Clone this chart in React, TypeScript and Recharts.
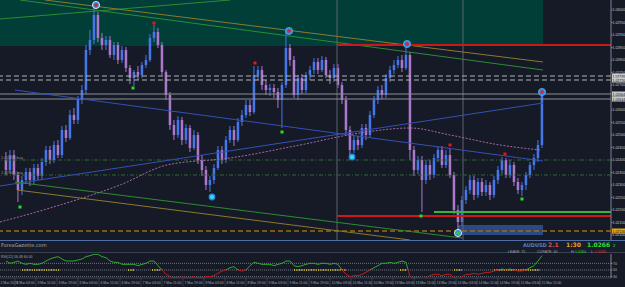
import React from 'react';
import { ComposedChart, Bar, Line, XAxis, YAxis, ReferenceLine, ReferenceArea, ReferenceDot } from 'recharts';

// candles, index 0..134
const opens = [
  1.02400, 1.02360, 1.02420, 1.02340, 1.02280, 1.02320, 1.02352, 1.02320, 1.02368, 1.02336,
  1.02392, 1.02440, 1.02400, 1.02460, 1.02420, 1.02520, 1.02488, 1.02580, 1.02560, 1.02640,
  1.02680, 1.02840, 1.02880, 1.02980, 1.02888, 1.02860, 1.02880, 1.02820, 1.02860, 1.02800,
  1.02840, 1.02768, 1.02728, 1.02752, 1.02740, 1.02780, 1.02800, 1.02888, 1.02912, 1.02860,
  1.02752, 1.02660, 1.02540, 1.02500, 1.02560, 1.02480, 1.02528, 1.02448, 1.02500, 1.02400,
  1.02360, 1.02300, 1.02320, 1.02368, 1.02440, 1.02400, 1.02480, 1.02520, 1.02480, 1.02552,
  1.02580, 1.02620, 1.02592, 1.02740, 1.02760, 1.02700, 1.02680, 1.02688, 1.02672, 1.02640,
  1.02700, 1.02848, 1.02800, 1.02660, 1.02728, 1.02680, 1.02740, 1.02760, 1.02792, 1.02760,
  1.02800, 1.02740, 1.02728, 1.02768, 1.02700, 1.02640, 1.02520, 1.02440, 1.02480, 1.02460,
  1.02528, 1.02500, 1.02580, 1.02640, 1.02680, 1.02660, 1.02728, 1.02760, 1.02780, 1.02800,
  1.02768, 1.02820, 1.02440, 1.02360, 1.02400, 1.02320, 1.02380, 1.02340, 1.02408, 1.02440,
  1.02380, 1.02420, 1.02340, 1.02200, 1.02152, 1.02240, 1.02280, 1.02320, 1.02260, 1.02312,
  1.02272, 1.02300, 1.02260, 1.02320, 1.02360, 1.02400, 1.02340, 1.02380, 1.02312, 1.02280,
  1.02300, 1.02340, 1.02380, 1.02408, 1.02460,
];
const closes = [
  1.02360, 1.02420, 1.02340, 1.02280, 1.02320, 1.02352, 1.02320, 1.02368, 1.02336, 1.02392,
  1.02440, 1.02400, 1.02460, 1.02420, 1.02520, 1.02488, 1.02580, 1.02560, 1.02640, 1.02680,
  1.02840, 1.02880, 1.02980, 1.02888, 1.02860, 1.02880, 1.02820, 1.02860, 1.02800, 1.02840,
  1.02768, 1.02728, 1.02752, 1.02740, 1.02780, 1.02800, 1.02888, 1.02912, 1.02860, 1.02752,
  1.02660, 1.02540, 1.02500, 1.02560, 1.02480, 1.02528, 1.02448, 1.02500, 1.02400, 1.02360,
  1.02300, 1.02320, 1.02368, 1.02440, 1.02400, 1.02480, 1.02520, 1.02480, 1.02552, 1.02580,
  1.02620, 1.02592, 1.02740, 1.02760, 1.02700, 1.02680, 1.02688, 1.02672, 1.02640, 1.02700,
  1.02848, 1.02800, 1.02660, 1.02728, 1.02680, 1.02740, 1.02760, 1.02792, 1.02760, 1.02800,
  1.02740, 1.02728, 1.02768, 1.02700, 1.02640, 1.02520, 1.02440, 1.02480, 1.02460, 1.02528,
  1.02500, 1.02580, 1.02640, 1.02680, 1.02660, 1.02728, 1.02760, 1.02780, 1.02800, 1.02768,
  1.02820, 1.02440, 1.02360, 1.02400, 1.02320, 1.02380, 1.02340, 1.02408, 1.02440, 1.02380,
  1.02420, 1.02340, 1.02200, 1.02152, 1.02240, 1.02280, 1.02320, 1.02260, 1.02312, 1.02272,
  1.02300, 1.02260, 1.02320, 1.02360, 1.02400, 1.02340, 1.02380, 1.02312, 1.02280, 1.02300,
  1.02340, 1.02380, 1.02408, 1.02460, 1.02668,
];
const highs = [
  1.02432, 1.02440, 1.02440, 1.02352, 1.02336, 1.02368, 1.02368, 1.02384, 1.02384, 1.02408,
  1.02456, 1.02456, 1.02476, 1.02480, 1.02536, 1.02540, 1.02600, 1.02608, 1.02656, 1.02700,
  1.02860, 1.02920, 1.03020, 1.02992, 1.02908, 1.02896, 1.02896, 1.02872, 1.02872, 1.02856,
  1.02852, 1.02780, 1.02760, 1.02776, 1.02792, 1.02820, 1.02904, 1.02940, 1.02928, 1.02872,
  1.02760, 1.02672, 1.02560, 1.02576, 1.02572, 1.02544, 1.02540, 1.02520, 1.02512, 1.02420,
  1.02376, 1.02336, 1.02384, 1.02456, 1.02456, 1.02496, 1.02536, 1.02536, 1.02568, 1.02600,
  1.02640, 1.02640, 1.02776, 1.02776, 1.02776, 1.02720, 1.02704, 1.02704, 1.02688, 1.02712,
  1.02916, 1.02864, 1.02816, 1.02740, 1.02744, 1.02752, 1.02776, 1.02808, 1.02808, 1.02816,
  1.02812, 1.02760, 1.02784, 1.02784, 1.02712, 1.02656, 1.02536, 1.02496, 1.02496, 1.02544,
  1.02544, 1.02596, 1.02656, 1.02696, 1.02700, 1.02744, 1.02776, 1.02800, 1.02816, 1.02820,
  1.02864, 1.02832, 1.02456, 1.02416, 1.02416, 1.02400, 1.02400, 1.02424, 1.02456, 1.02456,
  1.02440, 1.02448, 1.02352, 1.02220, 1.02256, 1.02296, 1.02340, 1.02336, 1.02328, 1.02328,
  1.02320, 1.02312, 1.02336, 1.02376, 1.02412, 1.02408, 1.02400, 1.02392, 1.02328, 1.02312,
  1.02352, 1.02392, 1.02424, 1.02480, 1.02672,
];
const lows = [
  1.02340, 1.02348, 1.02320, 1.02232, 1.02260, 1.02304, 1.02296, 1.02304, 1.02320, 1.02320,
  1.02376, 1.02384, 1.02388, 1.02408, 1.02408, 1.02472, 1.02480, 1.02544, 1.02544, 1.02624,
  1.02664, 1.02820, 1.02864, 1.02872, 1.02840, 1.02840, 1.02808, 1.02800, 1.02784, 1.02788,
  1.02752, 1.02704, 1.02696, 1.02720, 1.02728, 1.02768, 1.02792, 1.02872, 1.02848, 1.02740,
  1.02640, 1.02520, 1.02480, 1.02488, 1.02460, 1.02464, 1.02432, 1.02440, 1.02384, 1.02336,
  1.02280, 1.02272, 1.02304, 1.02360, 1.02384, 1.02388, 1.02468, 1.02456, 1.02472, 1.02536,
  1.02568, 1.02576, 1.02584, 1.02720, 1.02680, 1.02660, 1.02656, 1.02648, 1.02608, 1.02528,
  1.02688, 1.02776, 1.02648, 1.02640, 1.02664, 1.02668, 1.02720, 1.02744, 1.02744, 1.02752,
  1.02728, 1.02704, 1.02712, 1.02688, 1.02624, 1.02504, 1.02420, 1.02428, 1.02440, 1.02448,
  1.02480, 1.02488, 1.02568, 1.02624, 1.02644, 1.02648, 1.02712, 1.02744, 1.02768, 1.02752,
  1.02760, 1.02400, 1.02336, 1.02344, 1.02192, 1.02304, 1.02320, 1.02328, 1.02392, 1.02368,
  1.02368, 1.02328, 1.02184, 1.02116, 1.02136, 1.02224, 1.02264, 1.02240, 1.02248, 1.02256,
  1.02256, 1.02240, 1.02248, 1.02304, 1.02344, 1.02328, 1.02328, 1.02296, 1.02264, 1.02256,
  1.02280, 1.02328, 1.02360, 1.02392, 1.02448,
];

// oscillator, one value per candle
const rsi = [
  77, 70, 73, 77, 70, 67, 70, 67, 67, 70,
  77, 83, 87, 90, 83, 77, 77, 77, 80, 83,
  90, 93, 97, 97, 90, 87, 77, 73, 73, 67,
  67, 67, 67, 63, 67, 70, 77, 77, 63, 50,
  37, 30, 27, 27, 30, 27, 27, 30, 27, 27,
  30, 30, 33, 40, 47, 50, 57, 60, 50, 47,
  50, 63, 73, 70, 67, 67, 67, 63, 67, 70,
  77, 77, 63, 60, 63, 67, 70, 70, 67, 70,
  70, 67, 70, 67, 50, 37, 30, 33, 33, 37,
  43, 50, 57, 63, 70, 70, 73, 70, 73, 77,
  73, 30, 27, 27, 23, 27, 33, 37, 37, 33,
  37, 37, 27, 23, 30, 37, 37, 40, 37, 40,
  43, 43, 47, 50, 53, 50, 53, 50, 47, 47,
  50, 57, 63, 77, 93,
];
const signalZones = [[4, 13.5], [30.5, 32], [36.5, 38.5], [72, 85], [98.5, 100], [112, 114], [122, 133.5]];

// moving average (sampled)
const maPoints = [
  { i: -1.5, v: 1.02152 }, { i: 13.5, v: 1.0222 }, { i: 28.5, v: 1.023 }, { i: 40.25, v: 1.0238 },
  { i: 56, v: 1.02408 }, { i: 73.5, v: 1.0246 }, { i: 88.5, v: 1.02508 }, { i: 101, v: 1.02528 },
  { i: 111, v: 1.025 }, { i: 123.5, v: 1.0246 }, { i: 133.5, v: 1.0244 },
];

// 1.0265 sits under the bid/ask tags, left out
const priceTicks = [
  1.021, 1.0215, 1.022, 1.0225, 1.023, 1.0235, 1.024, 1.0245, 1.025, 1.0255,
  1.026, 1.027, 1.0275, 1.028, 1.0285, 1.029, 1.0295, 1.03,
];
const timeLabels = [
  '2 Mar 2023', '3 Mar 03:00', '3 Mar 11:00', '3 Mar 19:00', '6 Mar 03:00', '6 Mar 11:00', '6 Mar 19:00',
  '7 Mar 03:00', '7 Mar 11:00', '7 Mar 19:00', '8 Mar 03:00', '8 Mar 11:00', '8 Mar 19:00', '9 Mar 03:00',
  '9 Mar 11:00', '9 Mar 19:00', '10 Mar 03:00', '10 Mar 11:00', '10 Mar 19:00', '13 Mar 03:00', '13 Mar 11:00',
  '13 Mar 19:00', '14 Mar 03:00', '14 Mar 11:00', '14 Mar 19:00', '15 Mar 03:00', '15 Mar 11:00',
];

// trend lines: [x1, y1, x2, y2]
const greenUpper = [[-1.5, 1.02964, 56, 1.0304], [3.5, 1.0304, 134.25, 1.0276]];
const oliveUpper = [9.75, 1.0304, 134.25, 1.02792];
const blueLines = [[2.25, 1.0268, 134.25, 1.02396], [-1.5, 1.02296, 134.25, 1.02628]];
const greenLower = [2.25, 1.02312, 114, 1.02088];
const oliveLower = [2.75, 1.0228, 101, 1.0208];

const bigRed = [[22.5, 1.0302], [70.75, 1.02916], [100.25, 1.02864], [134, 1.02672]];
const cyanDots = [[51.5, 1.02252], [86.5, 1.02412]];
const lowCircle = [113, 1.02108];
const redMarks = [[37, 1.02948], [62.25, 1.02788], [111, 1.0246], [124.75, 1.02424]];
const greenMarks = [[3.5, 1.02212], [31.75, 1.02688], [69, 1.02512], [103.75, 1.02176], [129, 1.02244]];

const BG = '#151a26';
const BULL = '#4676ea';
const BEAR = '#ab78cc';
const FONT = 'Liberation Sans Narrow, Liberation Sans, sans-serif';

const candles = opens.map((o, i) => ({
  i, o, c: closes[i], h: highs[i], l: lows[i], range: [lows[i], highs[i]],
}));

const Candle = (props: any) => {
  const { x, y, width, height, payload } = props;
  const top = Math.min(y, y + height);
  const bot = Math.max(y, y + height);
  const span = payload.h - payload.l;
  const k = span > 0 ? (bot - top) / span : 0;
  const yo = top + (payload.h - payload.o) * k;
  const yc = top + (payload.h - payload.c) * k;
  const cx = x + width / 2;
  const color = payload.c > payload.o ? BULL : BEAR;
  return (
    <g>
      <line x1={cx} x2={cx} y1={top} y2={bot} stroke={color} strokeWidth={1} />
      <rect x={cx - 1.25} y={Math.min(yo, yc)} width={2.5} height={Math.max(1, Math.abs(yc - yo))} fill={color} />
    </g>
  );
};

const tag = (bg: string, fg: string, text: string) => (props: any) => {
  const { x, y, width } = props.viewBox;
  return (
    <g>
      <rect x={x + width + 1} y={y - 2.5} width={13} height={5} fill={bg} />
      <text x={x + width + 1.5} y={y + 1.5} fontSize={3.5} fill={fg} fontFamily={FONT}>{text}</text>
    </g>
  );
};

const leftTag = (text: string) => (props: any) => {
  const { x, y } = props.viewBox;
  return <text x={x + 1} y={y - 1} fontSize={4} fill="#8c8c8c" fontFamily={FONT}>{text}</text>;
};

const bigCircle = (center: string, ring: string) => (p: any) => (
  <g>
    <circle cx={p.cx} cy={p.cy} r={3.6} fill="#2f8ee6" stroke={ring} strokeWidth={0.8} />
    <circle cx={p.cx} cy={p.cy} r={1.8} fill={center} />
  </g>
);
const cyanCircle = (p: any) => (
  <g>
    <circle cx={p.cx} cy={p.cy} r={3.4} fill="#2a86e0" />
    <circle cx={p.cx} cy={p.cy} r={2} fill="#34e0f0" />
  </g>
);
const square = (color: string) => (p: any) => <rect x={p.cx - 1.5} y={p.cy - 1.5} width={3} height={3} fill={color} />;

const TimeTick = (props: any) => {
  const { x, y, index } = props;
  return (
    <g>
      <line x1={x} x2={x} y1={y} y2={y + 8} stroke="#4a5060" strokeWidth={0.6} />
      <text x={Math.max(x + 1.5, 0.5)} y={y + 6} fontSize={3.4} fill="#a8acb4" fontFamily={FONT}>{timeLabels[index]}</text>
    </g>
  );
};

const seg = (s: number[]) => [{ x: s[0], y: s[1] }, { x: s[2], y: s[3] }];

export default function App() {
  const timeTicks = timeLabels.map((_, k) => 5.25 * k - 3);
  const rsiData = rsi.map((v, i) => ({ i, v }));
  return (
    <div style={{ position: 'relative', width: 625, height: 287, background: BG, overflow: 'hidden', fontFamily: FONT }}>
      <style>{`body{margin:0;background:${BG}}`}</style>
      <div style={{ position: 'absolute', left: 0, top: 0 }}>
        <ComposedChart width={625} height={240} data={candles} margin={{ top: 0, right: 0, bottom: 0, left: 0 }}>
          <XAxis type="number" dataKey="i" domain={[-1.5, 151.25]} hide allowDataOverflow />
          <YAxis
            orientation="right"
            width={14}
            domain={[1.0208, 1.0304]}
            ticks={priceTicks}
            allowDataOverflow
            interval={0}
            tick={{ fontSize: 3.5, fill: '#c4c8d0', fontFamily: FONT }}
            tickFormatter={(v: number) => v.toFixed(5)}
            tickSize={1.5}
            tickMargin={0}
            stroke="#80848c"
          />
          <ReferenceArea x1={-1.5} x2={134.25} y1={1.02856} y2={1.0304} fill="#013e37" fillOpacity={1} stroke="none" ifOverflow="hidden" />
          <ReferenceArea x1={113} x2={134.25} y1={1.021} y2={1.0214} fill="#2d4f8e" fillOpacity={0.9} stroke="none" />
          <ReferenceLine x={82.75} stroke="#5c6270" strokeWidth={1} />
          <ReferenceLine x={114.25} stroke="#5c6270" strokeWidth={1} />
          <ReferenceLine y={1.02736} stroke="#b4b4b4" strokeDasharray="5 3" label={tag('#c8c8c8', '#111', '1.02736')} />
          <ReferenceLine y={1.0272} stroke="#b4b4b4" strokeDasharray="5 3" label={tag('#c8c8c8', '#111', '1.02720')} />
          <ReferenceLine y={1.02664} stroke="#8a8e96" label={tag('#c8c8c8', '#111', '1.02664')} />
          <ReferenceLine y={1.02644} stroke="#8a8e96" label={tag('#c8c8c8', '#111', '1.02644')} />
          <ReferenceLine y={1.024} stroke="#2f6a2f" strokeDasharray="4 2 1 2" label={leftTag('1.02400 buy')} />
          <ReferenceLine y={1.0234} stroke="#2f6a2f" strokeDasharray="4 2 1 2" label={leftTag('1.02340 buy')} />
          <ReferenceLine y={1.02116} stroke="#9a6c12" strokeWidth={1.5} strokeDasharray="5 3" label={tag('#f0a010', '#111', '1.02116')} />
          {greenUpper.map((s, k) => (
            <ReferenceLine key={'gu' + k} segment={seg(s)} stroke="#2c8c34" strokeWidth={1} ifOverflow="hidden" />
          ))}
          <ReferenceLine segment={seg(oliveUpper)} stroke="#8c7a2c" strokeWidth={1} ifOverflow="hidden" />
          {blueLines.map((s, k) => (
            <ReferenceLine key={'bl' + k} segment={seg(s)} stroke="#3550b4" strokeWidth={1} ifOverflow="hidden" />
          ))}
          <ReferenceLine segment={seg(greenLower)} stroke="#2c8c34" strokeWidth={1} ifOverflow="hidden" />
          <ReferenceLine segment={seg(oliveLower)} stroke="#8c7a2c" strokeWidth={1} ifOverflow="hidden" />
          <ReferenceLine segment={[{ x: 82.75, y: 1.0286 }, { x: 151.25, y: 1.0286 }]} stroke="#c81a1a" strokeWidth={2} />
          <ReferenceLine segment={[{ x: 82.75, y: 1.02176 }, { x: 151.25, y: 1.02176 }]} stroke="#d01818" strokeWidth={2} />
          <ReferenceLine segment={[{ x: 107, y: 1.02192 }, { x: 151.25, y: 1.02192 }]} stroke="#34b834" strokeWidth={2} />
          <Line data={maPoints} dataKey="v" type="monotone" stroke="#a36aa8" strokeWidth={1} strokeDasharray="2 1.5" dot={false} activeDot={false} isAnimationActive={false} />
          <Bar dataKey="range" barSize={3} shape={Candle} activeBar={false} isAnimationActive={false} />
          {redMarks.map((m, k) => (
            <ReferenceDot key={'rm' + k} x={m[0]} y={m[1]} r={1.5} shape={square('#e8141c')} />
          ))}
          {greenMarks.map((m, k) => (
            <ReferenceDot key={'gm' + k} x={m[0]} y={m[1]} r={1.5} shape={square('#22e02a')} />
          ))}
          {bigRed.map((m, k) => (
            <ReferenceDot key={'br' + k} x={m[0]} y={m[1]} r={3.6} shape={bigCircle('#e61e1e', k === 0 ? '#ffffff' : '#5aa8f0')} />
          ))}
          {cyanDots.map((m, k) => (
            <ReferenceDot key={'cy' + k} x={m[0]} y={m[1]} r={3.4} shape={cyanCircle} />
          ))}
          <ReferenceDot x={lowCircle[0]} y={lowCircle[1]} r={3.6} shape={bigCircle('#28d828', '#ffffff')} />
        </ComposedChart>
      </div>

      <div style={{ position: 'absolute', left: 0, top: 240, width: 625, height: 13, borderTop: '1px solid #4f6da6', borderBottom: '1px solid #3a4050', boxSizing: 'border-box', background: '#171d2a' }} />
      <svg style={{ position: 'absolute', left: 0, top: 240 }} width={625} height={14}>
        <text x={1} y={7} fontSize={5} fill="#aab0ba" fontFamily="DejaVu Sans, sans-serif">ForexGazette.com</text>
        <text x={523} y={7} fontSize={5} fill="#4f7ed8" fontFamily="DejaVu Sans, sans-serif" fontWeight="bold">AUDUSD</text>
        <text x={548} y={7} fontSize={6} fill="#e84848" fontFamily="DejaVu Sans, sans-serif" fontWeight="bold">2.1</text>
        <text x={566} y={7} fontSize={6} fill="#f0a018" fontFamily="DejaVu Sans, sans-serif" fontWeight="bold">1:30</text>
        <text x={587} y={7} fontSize={6} fill="#30e030" fontFamily="DejaVu Sans, sans-serif" fontWeight="bold">1.0266</text>
        <text x={613} y={7} fontSize={4} fill="#30e030" fontFamily="DejaVu Sans, sans-serif">2</text>
        <text x={508} y={13} fontSize={3.6} fill="#9ca2ac" fontFamily={FONT}>LEAVE: 75</text>
        <text x={537} y={13} fontSize={3.6} fill="#9ca2ac" fontFamily={FONT}>CURATE: 40</text>
        <text x={571} y={13} fontSize={3.6} fill="#9ca2ac" fontFamily={FONT}>H:</text>
        <text x={575} y={13} fontSize={3.6} fill="#30d030" fontFamily={FONT}>1.0264</text>
        <text x={591} y={13} fontSize={3.6} fill="#9ca2ac" fontFamily={FONT}>L:</text>
        <text x={595} y={13} fontSize={3.6} fill="#e03030" fontFamily={FONT}>1.0260</text>
      </svg>

      <div style={{ position: 'absolute', left: 0, top: 253 }}>
        <ComposedChart width={625} height={34} data={rsiData} margin={{ top: 1, right: 0, bottom: 0, left: 0 }}>
          <defs>
            <linearGradient id="rsiStroke" gradientUnits="userSpaceOnUse" x1={0} y1={0} x2={0} y2={34}>
              <stop offset="0.5" stopColor="#2aa82a" />
              <stop offset="0.5" stopColor="#c01c1c" />
            </linearGradient>
          </defs>
          <XAxis
            type="number"
            dataKey="i"
            domain={[-1.5, 151.25]}
            allowDataOverflow
            ticks={timeTicks}
            interval={0}
            height={9}
            tick={TimeTick}
            tickSize={0}
            tickMargin={0}
            stroke="#3a4050"
          />
          <YAxis
            orientation="right"
            width={14}
            domain={[26, 98]}
            allowDataOverflow
            ticks={[30, 50, 70]}
            interval={0}
            tick={{ fontSize: 3.5, fill: '#b4b8c0', fontFamily: FONT }}
            tickSize={1.5}
            tickMargin={0.5}
            stroke="#80848c"
          />
          <ReferenceLine y={70} stroke="#70747c" strokeDasharray="1 1" />
          <ReferenceLine y={50} stroke="#70747c" strokeDasharray="1 1" />
          <ReferenceLine y={30} stroke="#70747c" strokeDasharray="1 1" />
          {signalZones.map((z, k) => (
            <ReferenceLine key={'sz' + k} segment={[{ x: z[0], y: 50 }, { x: z[1], y: 50 }]} stroke="#e8d010" strokeWidth={1.4} strokeDasharray="1.2 1.2" />
          ))}
          <Line dataKey="v" type="linear" stroke="url(#rsiStroke)" strokeWidth={1} dot={false} activeDot={false} isAnimationActive={false} />
        </ComposedChart>
      </div>
      <svg style={{ position: 'absolute', left: 0, top: 253 }} width={80} height={8}>
        <text x={1} y={5} fontSize={3.5} fill="#a0a4ac" fontFamily={FONT}>RSI(12) 56.48 60.00</text>
      </svg>
    </div>
  );
}
